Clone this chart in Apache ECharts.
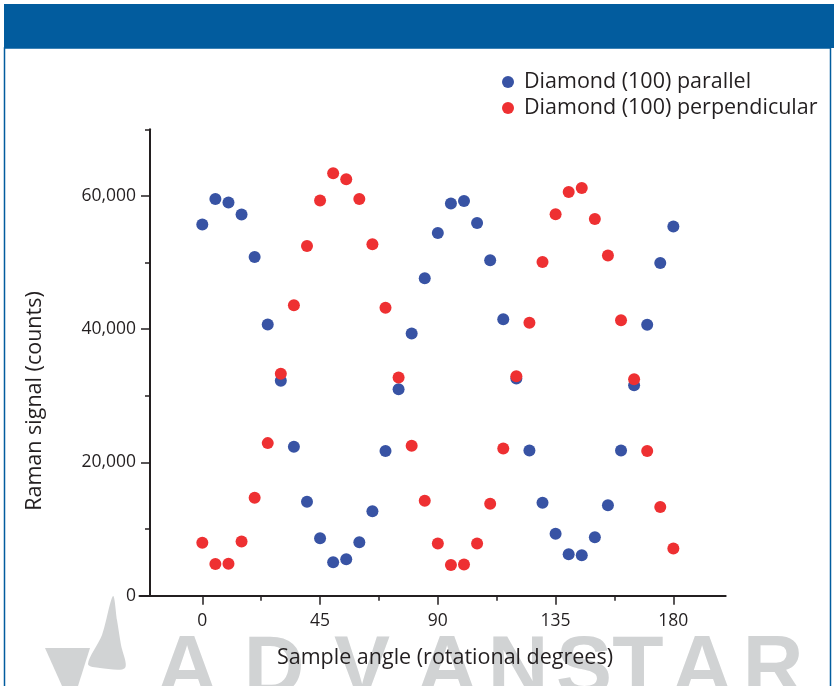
<!DOCTYPE html>
<html>
<head>
<meta charset="utf-8">
<script src="https://cdn.jsdelivr.net/npm/echarts@6/dist/echarts.min.js"></script>
<style>html,body{margin:0;padding:0;background:#fff;}#c{width:834px;height:686px;}</style>
</head>
<body>
<div id="c"></div>
<script>
var angles = [0,5,10,15,20,25,30,35,40,45,50,55,60,65,70,75,80,85,90,95,100,105,110,115,120,125,130,135,140,145,150,155,160,165,170,175,180];
var parallel = [55700,59550,59010,57210,50850,40710,32250,22350,14100,8610,5010,5460,8010,12660,21700,31000,39360,47650,54450,58850,59250,55950,50350,41500,32600,21800,13950,9300,6210,6060,8760,13560,21800,31600,40650,49950,55400];
var perpendicular = [7950,4750,4800,8150,14700,22900,33300,43600,52500,59300,63400,62500,59550,52750,43200,32750,22500,14250,7850,4600,4700,7850,13800,22100,32950,40950,50100,57250,60600,61200,56550,51050,41350,32500,21700,13300,7100];
var seriesNames = ['Diamond (100) parallel','Diamond (100) perpendicular'];
var xMajorTicks = [0,45,90,135,180];
var xMinorTicks = [22.5,67.5,112.5,157.5];
var yMajorTicks = [0,20000,40000,60000];
var yMinorTicks = [10000,30000,50000,70000];
var xTitle = 'Sample angle (rotational degrees)';
var yTitle = 'Raman signal (counts)';
var watermarkLetters = ['A','D','V','A','N','S','T','A','R'];

var FONT = '"Open Sans", "Noto Sans", sans-serif';
var INK = '#231f20';
var GREY = '#d1d3d4';
function pairs(ys){ return angles.map(function(a,i){ return [a, ys[i]]; }); }
var chart = echarts.init(document.getElementById('c'));
var wmX = [187,274,362,447,518,584,638,702,773];
var graphics = [
  {type:'rect', z:-20, shape:{x:4,y:4,width:834,height:44}, style:{fill:'#025c9e'}},
  {type:'rect', z:-20, shape:{x:4.5,y:48,width:826,height:660}, style:{fill:null, stroke:'#025c9e', lineWidth:1.5}},
  {type:'polygon', z:-15, silent:true, shape:{points:[[113,596],[117,620],[121,645],[125,668],[100,668],[88,664],[102,635]], smooth:0.3}, style:{fill:GREY}},
  {type:'polygon', z:-15, silent:true, shape:{points:[[45,648],[90,648],[78,686],[62,686]]}, style:{fill:GREY}},
  {type:'text', z:5, style:{text:yTitle, x:0, y:0, font:'21.5px ' + FONT, fill:INK, align:'center', verticalAlign:'middle'}, rotation:Math.PI/2, x:35, y:401},
  {type:'text', z:5, style:{text:xTitle, x:445, y:658, font:'21.5px ' + FONT, fill:INK, align:'center', verticalAlign:'middle'}}
];
watermarkLetters.forEach(function(ch,i){
  graphics.push({type:'text', z:-15, silent:true, style:{text:ch, x:wmX[i], y:629, font:'bold 84px "Liberation Sans", sans-serif', fill:GREY, align:'center', verticalAlign:'top'}});
});
var xCommon = {type:'value', min:-24, max:200, splitLine:{show:false}, position:'bottom'};
var yCommon = {type:'value', min:0, max:70000, splitLine:{show:false}, position:'left', offset:-10.5};
chart.setOption({
  animation:false,
  backgroundColor:'#fff',
  legend:{
    orient:'vertical', left:497, top:66, itemGap:4, itemWidth:12, itemHeight:12,
    icon:'circle',
    textStyle:{fontFamily:FONT, fontSize:21.5, lineHeight:22, color:INK, padding:[0,0,0,5]},
    data:seriesNames
  },
  grid:{left:139.5, right:108.3, top:129.3, bottom:90.3, containLabel:false},
  xAxis:[
    Object.assign({}, xCommon, {
      axisLine:{show:true, onZero:false, lineStyle:{color:INK, width:2}},
      axisTick:{show:true, length:9, customValues:xMajorTicks, lineStyle:{color:INK, width:1.5}},
      axisLabel:{show:true, customValues:xMajorTicks, margin:16, fontFamily:FONT, fontSize:17.5, color:INK}
    }),
    Object.assign({}, xCommon, {
      axisLine:{show:false, onZero:false},
      axisTick:{show:true, length:5, customValues:xMinorTicks, lineStyle:{color:INK, width:1.5}},
      axisLabel:{show:false}
    })
  ],
  yAxis:[
    Object.assign({}, yCommon, {
      axisLine:{show:true, onZero:false, lineStyle:{color:INK, width:2}},
      axisTick:{show:true, length:9, customValues:yMajorTicks, lineStyle:{color:INK, width:1.5}},
      axisLabel:{show:true, customValues:yMajorTicks, margin:14, fontFamily:FONT, fontSize:17.5, color:INK,
        formatter:function(v){ return v.toLocaleString('en-US'); }}
    }),
    Object.assign({}, yCommon, {
      axisLine:{show:false, onZero:false},
      axisTick:{show:true, length:5, customValues:yMinorTicks, lineStyle:{color:INK, width:1.5}},
      axisLabel:{show:false}
    })
  ],
  series:[
    {name:seriesNames[0], type:'scatter', symbolSize:12, itemStyle:{color:'#3853a4', opacity:1}, data:pairs(parallel), z:3},
    {name:seriesNames[1], type:'scatter', symbolSize:12, itemStyle:{color:'#ee3032', opacity:1}, data:pairs(perpendicular), z:4}
  ],
  graphic:graphics
});
</script>
</body>
</html>
